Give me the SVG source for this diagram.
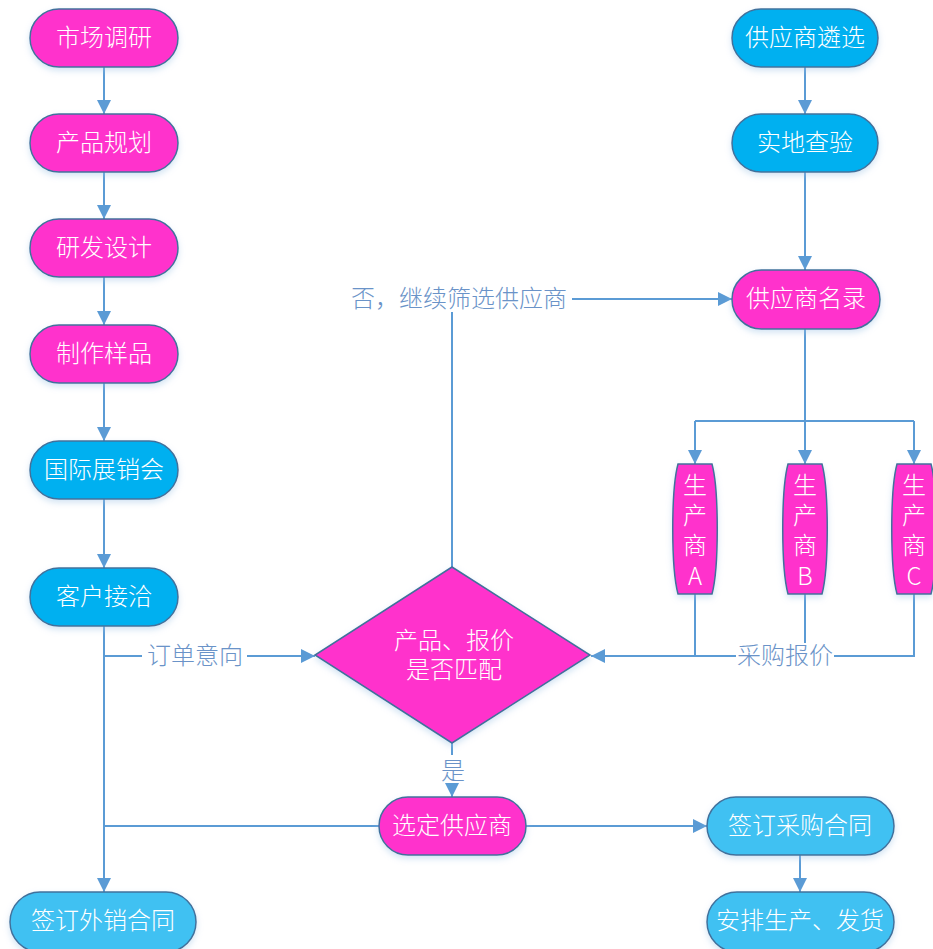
<svg xmlns="http://www.w3.org/2000/svg" width="933" height="949" viewBox="0 0 933 949">
<defs>
<marker id="arr" markerUnits="userSpaceOnUse" markerWidth="16" markerHeight="16" refX="14" refY="7" orient="auto">
<path d="M0,0 L14,7 L0,14 Z" fill="#5B9BD5"/>
</marker>
<filter id="sh" x="-20%" y="-20%" width="140%" height="150%">
<feDropShadow dx="0" dy="3" stdDeviation="3" flood-color="#9DC3E6" flood-opacity="0.45"/>
</filter>
<style>
.mag{fill:#FF33CC;stroke:#41719C;stroke-width:1.5;filter:url(#sh)}
.blu{fill:#00B0F0;stroke:#41719C;stroke-width:1.5;filter:url(#sh)}
.lbl{fill:#41C1F2;stroke:#41719C;stroke-width:1.5;filter:url(#sh)}
.nt{font-family:"Noto Sans CJK SC","Liberation Serif",serif;font-weight:300;font-size:24px;fill:#FFFFFF;text-anchor:middle;dominant-baseline:central}
.ct{font-family:"Noto Sans CJK SC","Liberation Serif",serif;font-weight:300;font-size:24px;fill:#6A93C8;text-anchor:middle;dominant-baseline:central}
.ln{fill:none;stroke:#5B9BD5;stroke-width:2}
.la{fill:none;stroke:#5B9BD5;stroke-width:2;marker-end:url(#arr)}
</style>
</defs>
<rect width="933" height="949" fill="#FFFFFF"/>

<g id="connectors">
<line class="la" x1="104" y1="67" x2="104" y2="114"/>
<line class="la" x1="104" y1="172" x2="104" y2="219"/>
<line class="la" x1="104" y1="277" x2="104" y2="325"/>
<line class="la" x1="104" y1="383" x2="104" y2="441"/>
<line class="la" x1="104" y1="499" x2="104" y2="568"/>
<line class="la" x1="104" y1="626" x2="104" y2="892"/>
<line class="ln" x1="104" y1="656" x2="142" y2="656"/>
<line class="la" x1="247" y1="656" x2="315" y2="656"/>
<polyline class="ln" points="452,567 452,312"/>
<line class="la" x1="572" y1="299" x2="732" y2="299"/>
<line class="la" x1="805" y1="67" x2="805" y2="114"/>
<line class="la" x1="805" y1="172" x2="805" y2="270"/>
<line class="la" x1="805" y1="329" x2="805" y2="464"/>
<polyline class="ln" points="695,421 914,421"/>
<line class="la" x1="695" y1="421" x2="695" y2="464"/>
<line class="la" x1="914" y1="421" x2="914" y2="464"/>
<polyline class="ln" points="695,594 695,656"/>
<line class="ln" x1="805" y1="594" x2="805" y2="643"/>
<polyline class="ln" points="914,594 914,656 834,656"/>
<line class="la" x1="736" y1="656" x2="591" y2="656"/>
<line class="ln" x1="452" y1="743" x2="452" y2="755"/>
<line class="la" x1="452" y1="785" x2="452" y2="797"/>
<line class="ln" x1="379" y1="826" x2="104" y2="826"/>
<line class="la" x1="526" y1="826" x2="707" y2="826"/>
<line class="la" x1="800" y1="855" x2="800" y2="892"/>
<text class="ct" x="195" y="653">订单意向</text>
<text class="ct" x="459" y="296">否，继续筛选供应商</text>
<text class="ct" x="785" y="653">采购报价</text>
<text class="ct" x="453" y="768">是</text>
</g>

<g id="n1"><rect class="mag" x="30" y="9" width="148" height="58" rx="29"/><text class="nt" x="104" y="35">市场调研</text></g>
<g id="n2"><rect class="mag" x="30" y="114" width="148" height="58" rx="29"/><text class="nt" x="104" y="140">产品规划</text></g>
<g id="n3"><rect class="mag" x="30" y="219" width="148" height="58" rx="29"/><text class="nt" x="104" y="245">研发设计</text></g>
<g id="n4"><rect class="mag" x="30" y="325" width="148" height="58" rx="29"/><text class="nt" x="104" y="351">制作样品</text></g>
<g id="n5"><rect class="blu" x="30" y="441" width="148" height="58" rx="29"/><text class="nt" x="104" y="467">国际展销会</text></g>
<g id="n6"><rect class="blu" x="30" y="568" width="148" height="58" rx="29"/><text class="nt" x="104" y="594">客户接洽</text></g>
<g id="n7"><rect class="lbl" x="10" y="892" width="186" height="60" rx="30"/><text class="nt" x="103" y="918">签订外销合同</text></g>

<g id="s1"><rect class="blu" x="732" y="9" width="146" height="58" rx="29"/><text class="nt" x="805" y="35">供应商遴选</text></g>
<g id="s2"><rect class="blu" x="732" y="114" width="146" height="58" rx="29"/><text class="nt" x="805" y="140">实地查验</text></g>
<g id="s3"><rect class="mag" x="732" y="270" width="148" height="59" rx="29.5"/><text class="nt" x="806" y="296">供应商名录</text></g>

<g id="pa"><path class="mag" d="M678,464 L712,464 C719,490 719,568 712,594 L678,594 C671,568 671,490 678,464 Z"/>
<text class="nt" x="695" y="483">生</text><text class="nt" x="695" y="513">产</text><text class="nt" x="695" y="543">商</text><text class="nt" x="695" y="574">A</text></g>
<g id="pb"><path class="mag" d="M788,464 L822,464 C829,490 829,568 822,594 L788,594 C781,568 781,490 788,464 Z"/>
<text class="nt" x="805" y="483">生</text><text class="nt" x="805" y="513">产</text><text class="nt" x="805" y="543">商</text><text class="nt" x="805" y="574">B</text></g>
<g id="pc"><path class="mag" d="M897,464 L931,464 C938,490 938,568 931,594 L897,594 C890,568 890,490 897,464 Z"/>
<text class="nt" x="914" y="483">生</text><text class="nt" x="914" y="513">产</text><text class="nt" x="914" y="543">商</text><text class="nt" x="914" y="574">C</text></g>

<g id="d1"><polygon class="mag" points="452,567 590,655 452,743 315,655"/>
<text class="nt" x="454" y="638">产品、报价</text><text class="nt" x="454" y="667">是否匹配</text></g>

<g id="c1"><rect class="mag" x="379" y="797" width="147" height="58" rx="29"/><text class="nt" x="452" y="823">选定供应商</text></g>
<g id="c2"><rect class="lbl" x="707" y="797" width="187" height="58" rx="29"/><text class="nt" x="800" y="823">签订采购合同</text></g>
<g id="c3"><rect class="lbl" x="707" y="892" width="187" height="60" rx="30"/><text class="nt" x="800" y="918">安排生产、发货</text></g>
</svg>
